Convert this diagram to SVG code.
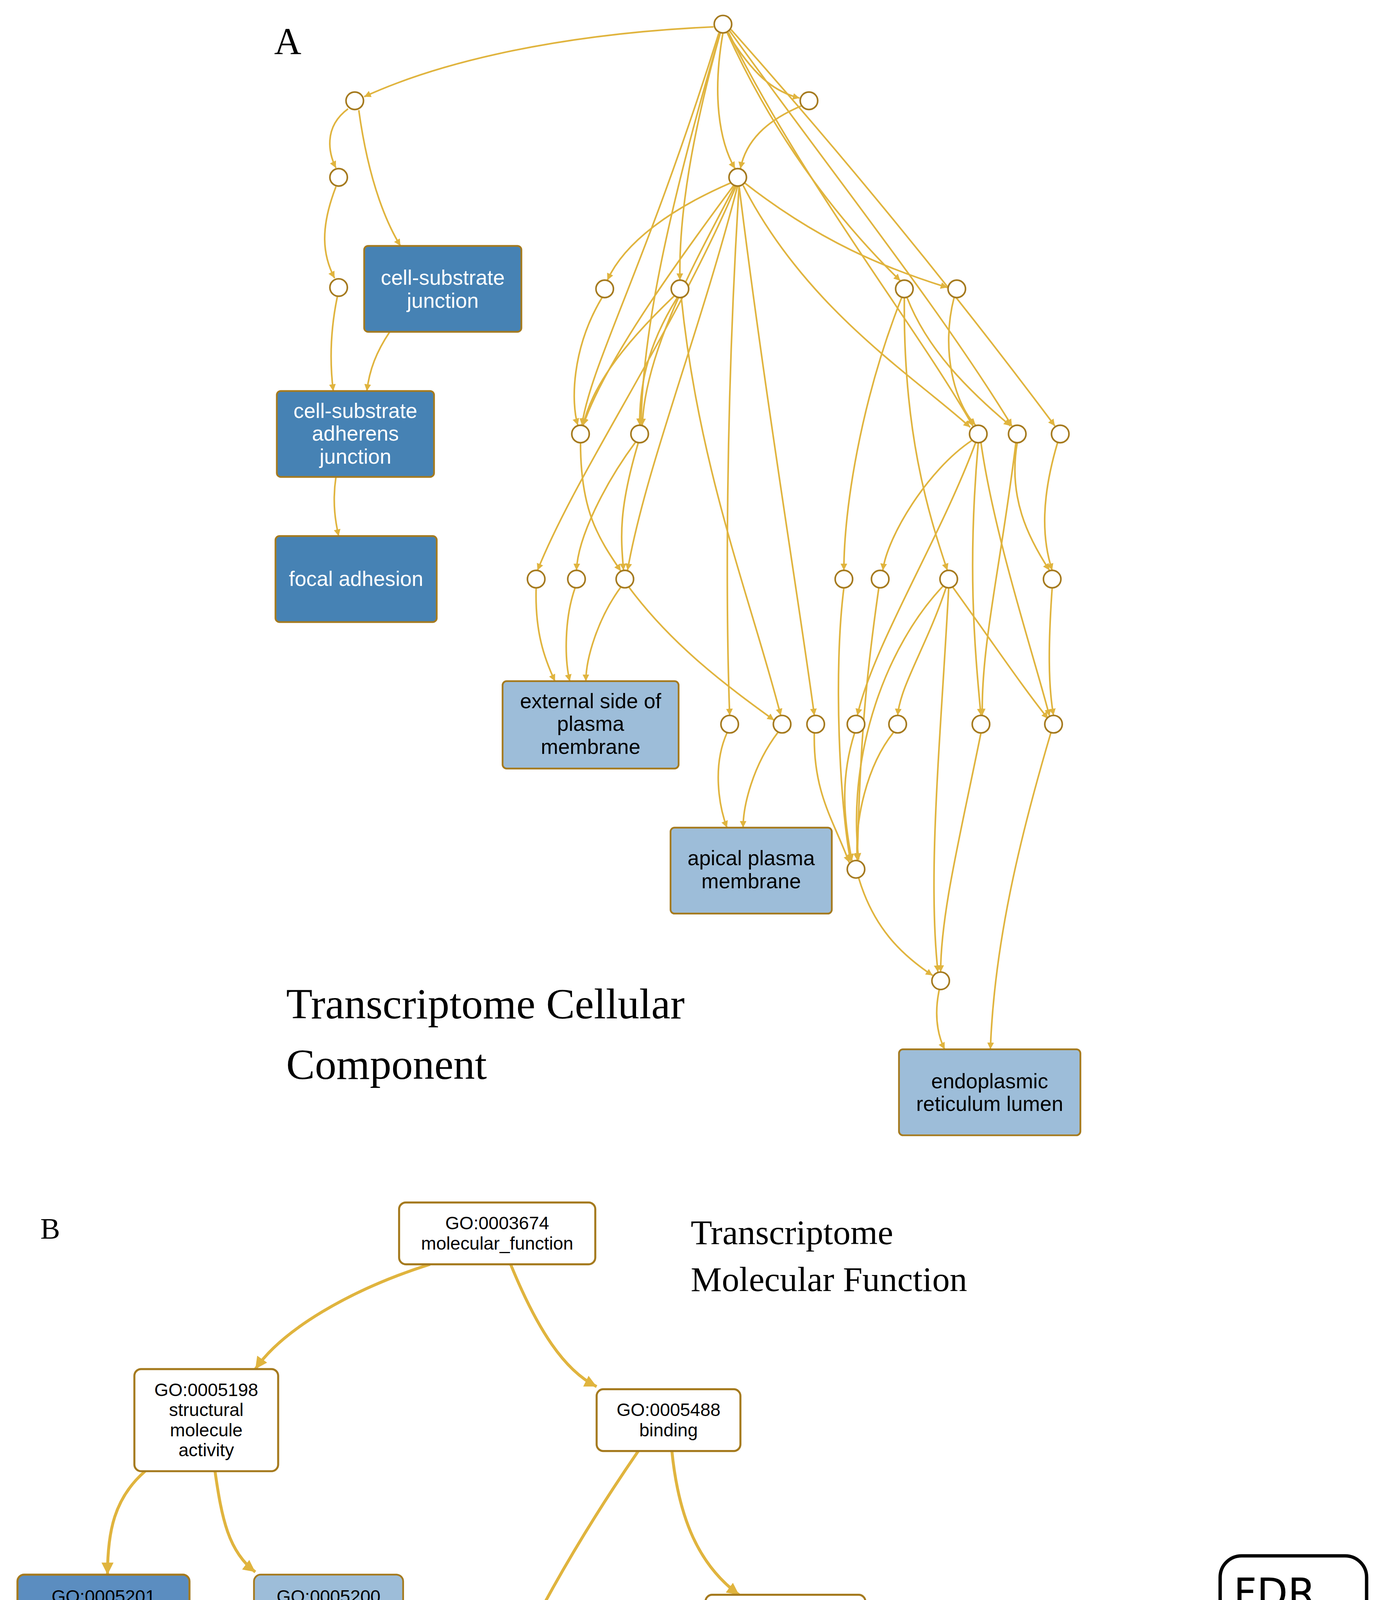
<svg xmlns="http://www.w3.org/2000/svg" width="3522" height="5352" viewBox="0 0 3522 5352">
<style>
.e{fill:none;stroke:#E0B43E;stroke-width:1.2}
.eb{fill:none;stroke:#E0B43E;stroke-width:2.2}
.c{fill:#fff;stroke:#A57A1E;stroke-width:1.2}
.bd{fill:#4682B4;stroke:#A57A1E;stroke-width:1.3}
.bl{fill:#9DBDD9;stroke:#A57A1E;stroke-width:1.3}
.bw{fill:#fff;stroke:#A57A1E;stroke-width:1.5}
.tw{font-family:"Liberation Sans",Arial,sans-serif;font-size:15.5px;fill:#fff;text-anchor:middle}
.tk{font-family:"Liberation Sans",Arial,sans-serif;font-size:15.5px;fill:#000;text-anchor:middle}
.tb{font-family:"Liberation Sans",Arial,sans-serif;font-size:13.5px;fill:#000;text-anchor:middle}
.tbw{font-family:"Liberation Sans",Arial,sans-serif;font-size:13.5px;fill:#fff;text-anchor:middle}
.ser{font-family:"Liberation Serif","Times New Roman",serif;fill:#000}
</style>
<defs>
<marker id="a" viewBox="0 0 10 10" refX="10" refY="5" markerUnits="userSpaceOnUse" markerWidth="5" markerHeight="5" orient="auto"><path d="M0,0 L10,5 L0,10 z" fill="#E0B43E"/></marker>
<marker id="ab" viewBox="0 0 10 10" refX="10" refY="5" markerUnits="userSpaceOnUse" markerWidth="9" markerHeight="9" orient="auto"><path d="M0,0 L10,5 L0,10 z" fill="#E0B43E"/></marker>
<linearGradient id="g" x1="0" y1="0" x2="0" y2="1"><stop offset="0" stop-color="#9DBDD9"/><stop offset="1" stop-color="#3F7FBF"/></linearGradient>
</defs>
<rect width="3522" height="5352" fill="#fff"/>
<g transform="scale(3.4395)">
<g id="connectors">
<g marker-end="url(#a)" class="e">
<path d="M531,20 C420,25 330,45 271,72"/>
<path d="M259,81 C240,95 245,115 250,125"/>
<path d="M267,82 C275,140 290,170 298,183"/>
<path d="M250,139 C238,170 240,190 249,207"/>
<path d="M251,221 C245,250 246,275 248,291"/>
<path d="M290,247 C280,262 275,275 273,291"/>
<path d="M250,463 C247,380 250,390 252,399" style="display:none"/>
<path d="M250,355 C247,375 250,390 252,399"/>
<path d="M541,24 C560,55 575,68 595,73"/>
<path d="M538,24.5 C530,70 535,105 547,125.5"/>
<path d="M596,79 C570,90 555,105 551,125.5"/>
<path d="M536,24.5 C515,100 505,160 506,208.5"/>
<path d="M535,24.5 C480,200 440,270 433,316.5"/>
<path d="M536,24.5 C490,180 478,260 477,316.5"/>
<path d="M541,24 C580,110 630,170 670,209"/>
<path d="M542,24 C600,140 680,240 724,317"/>
<path d="M543,23 C620,130 700,230 753,317"/>
<path d="M544,22 C640,130 720,230 785,317"/>
<path d="M544,136 C500,155 465,180 452,208.5"/>
<path d="M546,138 C500,200 450,270 434,316.5"/>
<path d="M547,138 C520,190 480,260 478,316.5"/>
<path d="M548,138 C500,250 430,350 400,424.5"/>
<path d="M549,138 C520,250 480,350 467,424.5"/>
<path d="M550,138.5 C540,300 540,450 543,532.5"/>
<path d="M550,138.5 C570,300 595,450 606,532.5"/>
<path d="M554,136 C610,180 660,200 705,214"/>
<path d="M553,138 C600,230 680,280 722,318"/>
<path d="M448,221.5 C425,260 425,300 430,316.5"/>
<path d="M502,220 C460,260 440,290 434,316.5"/>
<path d="M504,221.5 C480,260 476,290 476,316.5"/>
<path d="M507,221.5 C520,350 560,450 581,532.5"/>
<path d="M671,221.5 C640,300 628,380 628,424.5"/>
<path d="M673,221.5 C672,320 690,380 705,424.5"/>
<path d="M675,221.5 C690,260 720,290 752,317"/>
<path d="M710,221.5 C700,260 710,300 726,316.5"/>
<path d="M432,329.5 C432,380 445,400 462,425"/>
<path d="M473,329 C450,360 430,400 429,424.5"/>
<path d="M475,329.5 C460,380 462,400 464,424.5"/>
<path d="M723,328 C690,350 660,400 657,424.5"/>
<path d="M726,329.5 C700,400 650,480 638,532.5"/>
<path d="M728,329.5 C720,420 725,480 730,532.5"/>
<path d="M730,329.5 C740,400 770,490 781,533"/>
<path d="M757,329.5 C750,370 765,400 781,424.5"/>
<path d="M756,329.5 C745,420 730,480 731,532.5"/>
<path d="M787,329.5 C775,370 775,400 783,424.5"/>
<path d="M399,437.5 C398,470 405,490 413,507"/>
<path d="M428,437.5 C420,460 420,490 424,507"/>
<path d="M462,437 C445,460 436,490 436,507"/>
<path d="M468,437 C500,480 540,510 576,536"/>
<path d="M628,437.5 C620,500 625,600 633,641"/>
<path d="M654,437.5 C645,500 640,550 638,640"/>
<path d="M704,437.5 C690,480 670,510 668,532.5"/>
<path d="M702,436 C660,480 630,560 639,640"/>
<path d="M706,437.5 C700,550 690,650 698,723.5"/>
<path d="M709,437 C740,480 760,510 780,535"/>
<path d="M783,437.5 C780,480 780,510 784,532.5"/>
<path d="M541,545.5 C530,570 535,600 541,616"/>
<path d="M579,545 C560,570 553,600 553,616"/>
<path d="M606,545.5 C605,590 620,610 632,642"/>
<path d="M636,545.5 C625,580 628,610 634,640.5"/>
<path d="M665,545 C645,570 636,610 638,640.5"/>
<path d="M730,545.5 C715,620 700,680 700,723.5"/>
<path d="M782,545.5 C760,620 740,700 737,781"/>
<path d="M639,653.5 C650,690 670,710 694,726"/>
<path d="M699,736.5 C694,760 700,775 703,781"/>
</g>
<g marker-end="url(#ab)" class="eb">
<path d="M320,941 C260,960 210,990 190,1019"/>
<path d="M380,941 C400,990 420,1020 444,1032"/>
<path d="M108,1095 C85,1115 80,1140 80,1172"/>
<path d="M160,1095 C165,1130 170,1155 190,1170"/>
<path d="M475,1080 C420,1160 370,1250 345,1332"/>
<path d="M500,1080 C505,1130 520,1165 550,1187"/>
<path d="M525,1220 C400,1240 290,1280 212,1330"/>
<path d="M555,1233 C530,1250 510,1280 512,1326"/>
<path d="M585,1233 C585,1270 590,1310 630,1332"/>
<path d="M610,1233 C650,1280 700,1320 771,1348"/>
<path d="M173,1393 C200,1440 240,1470 285,1494"/>
<path d="M320,1393 C305,1420 305,1460 320,1494"/>
<path d="M455,1390 C410,1410 370,1450 347,1494"/>
<path d="M640,1395 C630,1420 630,1450 638,1479"/>
<path d="M810,1393 C795,1420 800,1460 810,1487"/>
</g>
</g>
<g id="circles">
<circle class="c" cx="538" cy="18" r="6.5"/><circle class="c" cx="264" cy="75" r="6.5"/><circle class="c" cx="602" cy="75" r="6.5"/>
<circle class="c" cx="252" cy="132" r="6.5"/><circle class="c" cx="549" cy="132" r="6.5"/><circle class="c" cx="252" cy="214" r="6.5"/>
<circle class="c" cx="450" cy="215" r="6.5"/><circle class="c" cx="506" cy="215" r="6.5"/><circle class="c" cx="673" cy="215" r="6.5"/><circle class="c" cx="712" cy="215" r="6.5"/>
<circle class="c" cx="432" cy="323" r="6.5"/><circle class="c" cx="476" cy="323" r="6.5"/><circle class="c" cx="728" cy="323" r="6.5"/><circle class="c" cx="757" cy="323" r="6.5"/><circle class="c" cx="789" cy="323" r="6.5"/>
<circle class="c" cx="399" cy="431" r="6.5"/><circle class="c" cx="429" cy="431" r="6.5"/><circle class="c" cx="465" cy="431" r="6.5"/><circle class="c" cx="628" cy="431" r="6.5"/><circle class="c" cx="655" cy="431" r="6.5"/><circle class="c" cx="706" cy="431" r="6.5"/><circle class="c" cx="783" cy="431" r="6.5"/>
<circle class="c" cx="543" cy="539" r="6.5"/><circle class="c" cx="582" cy="539" r="6.5"/><circle class="c" cx="607" cy="539" r="6.5"/><circle class="c" cx="637" cy="539" r="6.5"/><circle class="c" cx="668" cy="539" r="6.5"/><circle class="c" cx="730" cy="539" r="6.5"/><circle class="c" cx="784" cy="539" r="6.5"/>
<circle class="c" cx="637" cy="647" r="6.5"/><circle class="c" cx="700" cy="730" r="6.5"/>
</g>
<g id="csj"><rect class="bd" x="271" y="183" width="117" height="64" rx="3"/><text class="tw" x="329.5" y="212">cell-substrate</text><text class="tw" x="329.5" y="229">junction</text></g>
<g id="csaj"><rect class="bd" x="206" y="291" width="117" height="64" rx="3"/><text class="tw" x="264.5" y="311">cell-substrate</text><text class="tw" x="264.5" y="328">adherens</text><text class="tw" x="264.5" y="345">junction</text></g>
<g id="fa"><rect class="bd" x="205" y="399" width="120" height="64" rx="3"/><text class="tw" x="265" y="436">focal adhesion</text></g>
<g id="espm"><rect class="bl" x="374" y="507" width="131" height="65" rx="3"/><text class="tk" x="439.5" y="527">external side of</text><text class="tk" x="439.5" y="544">plasma</text><text class="tk" x="439.5" y="561">membrane</text></g>
<g id="apm"><rect class="bl" x="499" y="616" width="120" height="64" rx="3"/><text class="tk" x="559" y="644">apical plasma</text><text class="tk" x="559" y="661">membrane</text></g>
<g id="erl"><rect class="bl" x="669" y="781" width="135" height="64" rx="3"/><text class="tk" x="736.5" y="810">endoplasmic</text><text class="tk" x="736.5" y="827">reticulum lumen</text></g>
<text class="ser" x="204" y="40" font-size="28">A</text>
<text class="ser" x="213" y="758" font-size="32">Transcriptome Cellular</text>
<text class="ser" x="213" y="803" font-size="32">Component</text>
<text class="ser" x="30" y="922" font-size="22">B</text>
<text class="ser" x="514" y="926" font-size="26">Transcriptome</text>
<text class="ser" x="514" y="961" font-size="26">Molecular Function</text>
<g id="mf"><rect class="bw" x="297" y="895" width="146" height="46" rx="5"/><text class="tb" x="370" y="915">GO:0003674</text><text class="tb" x="370" y="930">molecular_function</text></g>
<g id="sm"><rect class="bw" x="100" y="1019" width="107" height="76" rx="5"/><text class="tb" x="153.5" y="1039">GO:0005198</text><text class="tb" x="153.5" y="1054">structural</text><text class="tb" x="153.5" y="1069">molecule</text><text class="tb" x="153.5" y="1084">activity</text></g>
<g id="bind"><rect class="bw" x="444" y="1034" width="107" height="46" rx="5"/><text class="tb" x="497.5" y="1054">GO:0005488</text><text class="tb" x="497.5" y="1069">binding</text></g>
<g id="ecm"><rect x="13" y="1172" width="128" height="76" rx="5" fill="#5B8DC0" stroke="#A57A1E" stroke-width="1.5"/><text class="tb" x="77" y="1193">GO:0005201</text><text class="tb" x="77" y="1208">extracellular</text><text class="tb" x="77" y="1223">matrix structural</text><text class="tb" x="77" y="1238">constituent</text></g>
<g id="cyto"><rect class="bl" x="189" y="1172" width="111" height="76" rx="5"/><text class="tb" x="244.5" y="1193">GO:0005200</text><text class="tb" x="244.5" y="1208">structural</text><text class="tb" x="244.5" y="1223">constituent of</text><text class="tb" x="244.5" y="1238">cytoskeleton</text></g>
<g id="pb"><rect class="bw" x="525" y="1187" width="119" height="46" rx="5"/><text class="tb" x="584.5" y="1207">GO:0005515</text><text class="tb" x="584.5" y="1222">protein binding</text></g>
<g id="srb"><rect class="bw" x="87" y="1332" width="123" height="61" rx="5"/><text class="tb" x="148.5" y="1353">GO:0005102</text><text class="tb" x="148.5" y="1368">signaling</text><text class="tb" x="148.5" y="1383">receptor binding</text></g>
<g id="pccb"><rect class="bw" x="263" y="1332" width="140" height="61" rx="5"/><text class="tb" x="333" y="1353">GO:0044877</text><text class="tb" x="333" y="1368">protein-containing</text><text class="tb" x="333" y="1383">complex binding</text></g>
<g id="cam"><rect class="bd" x="452" y="1326" width="108" height="76" rx="5"/><text class="tbw" x="506" y="1346">GO:0050839</text><text class="tbw" x="506" y="1361">cell adhesion</text><text class="tbw" x="506" y="1376">molecule</text><text class="tbw" x="506" y="1391">binding</text></g>
<g id="gfb"><rect class="bd" x="609" y="1332" width="107" height="63" rx="5"/><text class="tbw" x="662.5" y="1354">GO:0019838</text><text class="tbw" x="662.5" y="1369">growth factor</text><text class="tbw" x="662.5" y="1384">binding</text></g>
<g id="tfb"><rect class="bw" x="771" y="1332" width="111" height="61" rx="5"/><text class="tb" x="826.5" y="1353">GO:0008134</text><text class="tb" x="826.5" y="1368">transcription</text><text class="tb" x="826.5" y="1383">factor binding</text></g>
<g id="ib"><rect class="bl" x="272" y="1494" width="122" height="46" rx="5"/><text class="tb" x="333" y="1514">GO:0005178</text><text class="tb" x="333" y="1529">integrin binding</text></g>
<g id="pdgf"><rect class="bl" x="601" y="1479" width="123" height="76" rx="5"/><text class="tb" x="662.5" y="1500">GO:0048407</text><text class="tb" x="662.5" y="1515">platelet-derived</text><text class="tb" x="662.5" y="1530">growth factor</text><text class="tb" x="662.5" y="1545">binding</text></g>
<g id="nfk"><rect class="bl" x="773" y="1487" width="107" height="61" rx="5"/><text class="tb" x="826.5" y="1508">GO:0051059</text><text class="tb" x="826.5" y="1523">NF-kappaB</text><text class="tb" x="826.5" y="1538">binding</text></g>
<g id="legend">
<rect x="908" y="1158" width="109" height="382" rx="16" fill="#fff" stroke="#000" stroke-width="2.5"/>
<text x="918" y="1196" font-family="DejaVu Sans,sans-serif" font-size="30" fill="#000">FDR</text>
<rect x="921" y="1218" width="31" height="314" fill="url(#g)" stroke="#3A6A9E" stroke-width="2"/>
<text x="956" y="1240" font-family="DejaVu Sans,sans-serif" font-size="21" fill="#000">0.05</text>
<text x="956" y="1531" font-family="DejaVu Sans,sans-serif" font-size="21" fill="#000">10<tspan font-size="13" dy="-10">-5</tspan></text>
</g>
</g>
</svg>
